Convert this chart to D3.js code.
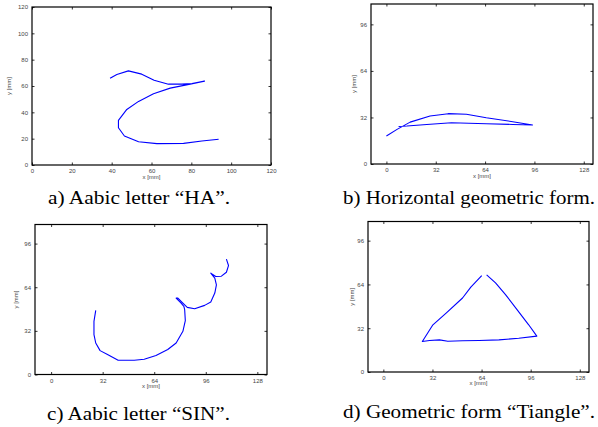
<!DOCTYPE html>
<html>
<head>
<meta charset="utf-8">
<script src="https://cdn.jsdelivr.net/npm/d3@7"></script>
<style>
  body { margin: 0; background: white; }
  svg { display: block; }
</style>
</head>
<body>
<div id="chart"></div>
<script>
//Traces (mm)

//a) HA
var haX = [39.2, 42.6, 48.4, 55.1, 61.3, 68.5, 75.2, 80.3, 86.6, 79.4, 69.4, 61.0, 53.5, 47.6, 43.4, 43.4, 46.4, 53.5, 62.7, 76.1, 85.3, 93.7];
var haY = [65.9, 68.7, 71.5, 69.0, 64.4, 61.4, 61.4, 61.9, 63.7, 61.4, 58.4, 54.1, 48.3, 42.2, 33.9, 28.3, 22.0, 17.7, 16.2, 16.4, 18.2, 19.5];

//b) horizontal form
var horX = [0, 6.9, 15.4, 28.3, 40.1, 51.9, 64.8, 81.9, 94.8, 81.9, 64.8, 42.2, 26.2, 13.3, 7.9];
var horY = [19.2, 23.8, 28.8, 33.0, 34.6, 34.2, 31.8, 29.1, 26.8, 27.2, 27.7, 28.4, 27.2, 26.1, 25.8];

//c) SIN
var sinX = [27.7, 26.6, 26.6, 27.7, 30.4, 35.0, 41.6, 51.6, 57.8, 65.1, 72.4, 77.6, 81.8, 83.3, 82.9, 82.4, 80.7, 77.6, 78.7, 81.8, 84.5, 89.1, 95.3, 99.1, 101.6, 102.6, 101.6, 99.1, 102.2, 105.7, 108.8, 110.1, 108.8];
var sinY = [47.0, 39.0, 29.2, 23.1, 17.5, 14.6, 10.5, 10.5, 11.2, 13.9, 18.3, 23.1, 31.7, 39.5, 47.5, 50.0, 52.4, 56.0, 56.0, 52.4, 49.2, 48.2, 50.7, 53.1, 59.7, 65.8, 70.7, 74.3, 71.9, 72.1, 75.0, 79.9, 84.6];

//d) triangle
var triX = [64.1, 57.0, 51.6, 40.9, 32.3, 25.4, 30.1, 36.6, 42.0, 51.6, 62.4, 75.3, 88.2, 100.0, 94.7, 87.1, 79.6, 73.1, 67.3];
var triY = [70.5, 62.0, 54.1, 43.1, 34.5, 22.3, 23.0, 23.5, 22.5, 22.8, 23.0, 23.5, 24.7, 26.2, 34.5, 45.6, 56.6, 65.1, 71.0];

var ticksA = [0, 20, 40, 60, 80, 100, 120];
var ticksX = [0, 32, 64, 96, 128];
var ticksY = [0, 32, 64, 96];

var captions = ["a) Aabic letter \u201cHA\u201d.", "b) Horizontal geometric form.", "c) Aabic letter \u201cSIN\u201d.", "d) Geometric form \u201cTiangle\u201d."];

var svg = d3
  .select("#chart")
  .append("svg")
  .attr("width", 598)
  .attr("height", 427)
  .style("background-color", "white");

//Panel boxes (pixels)
var panels = [
  { left: 32, right: 271, top: 7, bottom: 165, xd: [0, 120], yd: [0, 120], xt: ticksA, yt: ticksA, xs: haX, ys: haY,
    cap: { x: 48, y: 204, w: 182 }, xl: 179, yl: 11 },
  { left: 371, right: 593, top: 4, bottom: 164, xd: [-10, 134], yd: [0, 110], xt: ticksX, yt: ticksY, xs: horX, ys: horY,
    cap: { x: 343, y: 204, w: 252 }, xl: 178, yl: 356 },
  { left: 35, right: 267, top: 224.5, bottom: 374.5, xd: [-10, 134], yd: [0, 110], xt: ticksX, yt: ticksY, xs: sinX, ys: sinY,
    cap: { x: 47, y: 420, w: 183 }, xl: 388, yl: 18 },
  { left: 368, right: 589, top: 221.5, bottom: 372, xd: [-10, 134], yd: [0, 110], xt: ticksX, yt: ticksY, xs: triX, ys: triY,
    cap: { x: 343, y: 417.5, w: 252 }, xl: 385, yl: 354 }
];

panels.forEach(function (p, i) {
  var x = d3.scaleLinear().domain(p.xd).range([p.left, p.right]);
  var y = d3.scaleLinear().domain(p.yd).range([p.bottom, p.top]);
  var g = svg.append("g");

  //inward ticks on all four sides
  var styleAxis = function (sel) {
    sel.select(".domain").remove();
    sel.selectAll("line").attr("stroke", "black").attr("stroke-width", 0.8);
    sel.selectAll("text")
      .attr("fill", "#444")
      .style("font-family", "Liberation Sans, Arial, sans-serif")
      .style("font-size", "6px");
  };

  g.append("g")
    .attr("transform", "translate(0," + p.bottom + ")")
    .call(d3.axisBottom(x).tickValues(p.xt).tickSize(-2.5).tickSizeOuter(0).tickPadding(4))
    .call(styleAxis);
  g.append("g")
    .attr("transform", "translate(0," + p.top + ")")
    .call(d3.axisTop(x).tickValues(p.xt).tickSize(-2.5).tickSizeOuter(0).tickFormat(""))
    .call(styleAxis);
  g.append("g")
    .attr("transform", "translate(" + p.left + ",0)")
    .call(d3.axisLeft(y).tickValues(p.yt).tickSize(-2.5).tickSizeOuter(0).tickPadding(4))
    .call(styleAxis);
  g.append("g")
    .attr("transform", "translate(" + p.right + ",0)")
    .call(d3.axisRight(y).tickValues(p.yt).tickSize(-2.5).tickSizeOuter(0).tickFormat(""))
    .call(styleAxis);

  //frame
  g.append("rect")
    .attr("x", p.left)
    .attr("y", p.top)
    .attr("width", p.right - p.left)
    .attr("height", p.bottom - p.top)
    .attr("fill", "none")
    .attr("stroke", "black")
    .attr("stroke-width", 1.2);

  //trace
  var pts = p.xs.map(function (d, k) { return [d, p.ys[k]]; });
  g.append("path")
    .datum(pts)
    .attr("fill", "none")
    .attr("stroke", "rgb(0,0,255)")
    .attr("stroke-width", 1.1)
    .attr("stroke-linejoin", "round")
    .attr("d", d3.line().x(function (d) { return x(d[0]); }).y(function (d) { return y(d[1]); }));

  //axis labels
  g.append("text")
    .attr("x", (p.left + p.right) / 2)
    .attr("y", p.xl)
    .attr("text-anchor", "middle")
    .attr("fill", "#444")
    .style("font-family", "Liberation Sans, Arial, sans-serif")
    .style("font-size", "6px")
    .text("x [mm]");
  g.append("text")
    .attr("transform", "translate(" + p.yl + "," + (p.top + p.bottom) / 2 + ") rotate(-90)")
    .attr("text-anchor", "middle")
    .attr("fill", "#444")
    .style("font-family", "Liberation Sans, Arial, sans-serif")
    .style("font-size", "6px")
    .text("y [mm]");

  //caption
  svg.append("text")
    .attr("x", p.cap.x)
    .attr("y", p.cap.y)
    .attr("fill", "black")
    .attr("textLength", p.cap.w)
    .attr("lengthAdjust", "spacingAndGlyphs")
    .style("font-family", "Liberation Serif, Times New Roman, serif")
    .style("font-size", "19.5px")
    .text(captions[i]);
});
</script>
</body>
</html>
